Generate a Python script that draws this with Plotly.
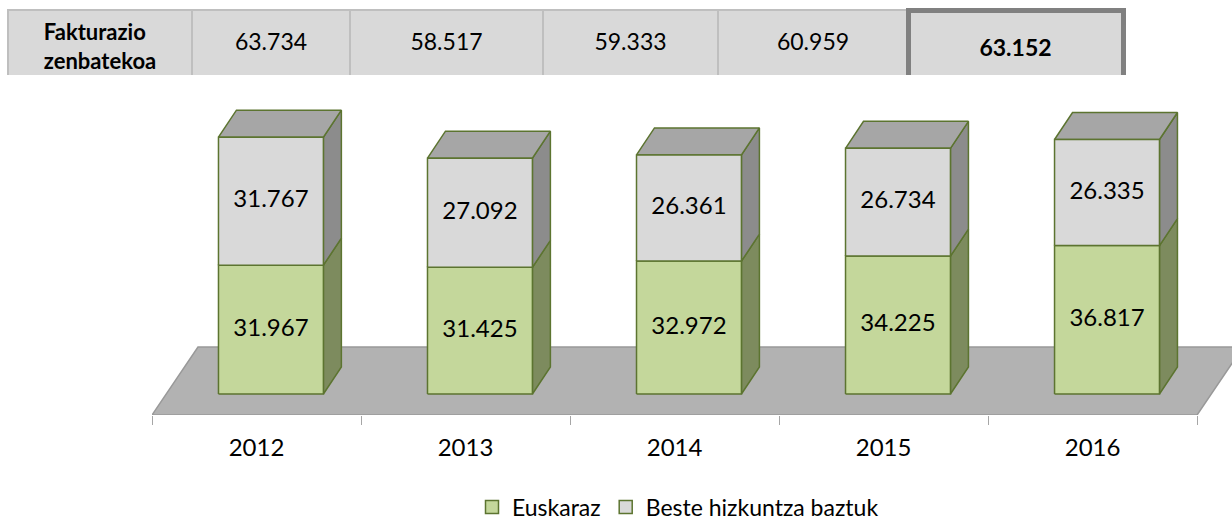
import plotly.graph_objects as go

# ---------------- data ----------------
years = ["2012", "2013", "2014", "2015", "2016"]
euskaraz = [31967, 31425, 32972, 34225, 36817]
beste = [31767, 27092, 26361, 26734, 26335]
totals = [63734, 58517, 59333, 60959, 63152]
table_label = "Fakturazio<br>zenbatekoa"
series_names = ["Euskaraz", "Beste hizkuntza baztuk"]


def fmt(v):
    return f"{v:,}".replace(",", ".")


# ---------------- style / geometry ----------------
W, H = 1232, 522
FONT = "Lato"
GREEN = "#c4d79b"
GREEN_SIDE = "#7d8b5e"
EDGE = "#5c7430"
GRAY = "#d9d9d9"
GRAY_TOP = "#a6a6a6"
GRAY_SIDE = "#8c8c8c"
FLOOR = "#b2b2b2"
FLOOR_EDGE = "#999999"

BAR_W = 0.502      # front face width (category units)
SHIFT = 0.069      # front face offset from category centre
DX, DY = 0.086, 6700   # bar depth
Y_MIN, Y_MAX = -5210, 72950
X_MIN, X_MAX = -0.5, 4.667
FLOOR_BACK = 11660
FLOOR_DX = 0.22

n = len(years)

gf_x, gf_y, sf_x, sf_y = [], [], [], []
gs_x, gs_y, ss_x, ss_y, tp_x, tp_y = [], [], [], [], [], []
lab_x, lab_y, lab_t = [], [], []
for i, (e, b) in enumerate(zip(euskaraz, beste)):
    t = e + b
    x0 = i + SHIFT - BAR_W / 2
    x1 = x0 + BAR_W
    gf_x += [x0, x1, x1, x0, x0, None]
    gf_y += [0, 0, e, e, 0, None]
    sf_x += [x0, x1, x1, x0, x0, None]
    sf_y += [e, e, t, t, e, None]
    gs_x += [x1, x1 + DX, x1 + DX, x1, x1, None]
    gs_y += [0, DY, e + DY, e, 0, None]
    ss_x += [x1, x1 + DX, x1 + DX, x1, x1, None]
    ss_y += [e, e + DY, t + DY, t, e, None]
    tp_x += [x0, x1, x1 + DX, x0 + DX, x0, None]
    tp_y += [t, t, t + DY, t + DY, t, None]
    lab_x += [i + SHIFT, i + SHIFT]
    lab_y += [e / 2, e + b / 2]
    lab_t += [fmt(e), fmt(b)]

fig = go.Figure()

# floor
fx0, fx1 = -0.5, n - 0.5
fig.add_trace(go.Scatter(
    x=[fx0, fx1, fx1 + FLOOR_DX, fx0 + FLOOR_DX, fx0],
    y=[Y_MIN, Y_MIN, FLOOR_BACK, FLOOR_BACK, Y_MIN],
    fill="toself", fillcolor=FLOOR, mode="lines",
    line=dict(color=FLOOR_EDGE, width=1.5), showlegend=False, hoverinfo="skip"))


def face(xs, ys, color):
    fig.add_trace(go.Scatter(x=xs, y=ys, fill="toself", fillcolor=color, mode="lines",
                             line=dict(color=EDGE, width=1.5), showlegend=False,
                             hoverinfo="skip"))


face(gs_x, gs_y, GREEN_SIDE)
face(ss_x, ss_y, GRAY_SIDE)
face(tp_x, tp_y, GRAY_TOP)
face(gf_x, gf_y, GREEN)
face(sf_x, sf_y, GRAY)

fig.add_trace(go.Scatter(x=lab_x, y=lab_y, text=lab_t, mode="text",
                         textfont=dict(family=FONT, size=24, color="black"),
                         showlegend=False, hoverinfo="skip"))

# legend entries
for name, col in zip(series_names, [GREEN, GRAY]):
    fig.add_trace(go.Scatter(x=[None], y=[None], mode="markers", name=name,
                             marker=dict(symbol="square", size=13, color=col,
                                         line=dict(color=EDGE, width=1.5))))

# ---------------- table on top ----------------
COLW = [184, 158, 193, 175, 190, 215]
TX = [8 / W, 1123 / W]
ncol = 1 + len(totals)

# grid (cells, borders, row label)
fig.add_trace(go.Table(
    domain=dict(x=TX, y=[1 - 76 / H, 1 - 10 / H]),
    columnwidth=COLW,
    header=dict(values=["<b>" + table_label + "</b>"] + [""] * len(totals),
                height=64, fill_color=GRAY, align="center",
                line=dict(color=["#bfbfbf"] * (ncol - 1) + ["#808080"],
                          width=[2] * (ncol - 1) + [5]),
                font=dict(family=FONT, size=22, color="black")),
    cells=dict(values=[[] for _ in range(ncol)], height=0),
))
# value texts, centred vertically in the cells
fig.add_trace(go.Table(
    domain=dict(x=TX, y=[1 - 91 / H, 1 - 25 / H]),
    columnwidth=COLW,
    header=dict(values=[""] + [fmt(v) for v in totals[:-1]] + ["<b>" + fmt(totals[-1]) + "</b>"],
                height=64, fill_color="rgba(0,0,0,0)", align="center",
                line=dict(color="rgba(0,0,0,0)", width=0),
                font=dict(family=FONT, size=23, color="black")),
    cells=dict(values=[[] for _ in range(ncol)], height=0),
))

fig.update_layout(
    width=W, height=H,
    margin=dict(l=0, r=0, t=0, b=0, autoexpand=False),
    paper_bgcolor="white", plot_bgcolor="white",
    font=dict(family=FONT, color="black"),
    xaxis=dict(domain=[152 / W, 1], range=[X_MIN, X_MAX],
               tickmode="array", tickvals=list(range(n)), ticktext=years,
               ticks="", showgrid=False, zeroline=False, showline=False,
               tickfont=dict(family=FONT, size=24, color="black"),
               ticklabelstandoff=16,
               minor=dict(tickmode="array", tickvals=[i - 0.5 for i in range(n + 1)],
                          ticks="outside", ticklen=9, tickcolor="#a6a6a6",
                          tickwidth=1.2, showgrid=False)),
    yaxis=dict(domain=[107 / H, 422 / H], range=[Y_MIN, Y_MAX], visible=False),
    legend=dict(orientation="h", x=678 / W, xanchor="center", y=15 / H, yanchor="middle",
                font=dict(family=FONT, size=23, color="black"),
                itemwidth=30, bgcolor="rgba(0,0,0,0)"),
    showlegend=True,
)

fig.write_html("out.html", config={"displayModeBar": False},
               post_script="document.body.style.margin='0px';")
